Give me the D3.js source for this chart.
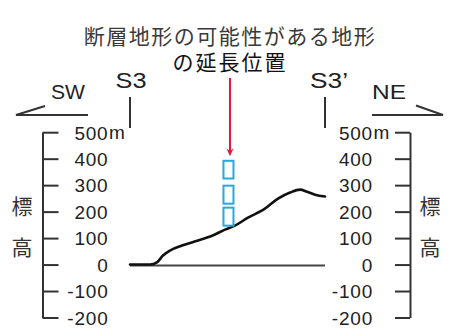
<!DOCTYPE html>
<html>
<head>
<meta charset="utf-8">
<script src="https://cdn.jsdelivr.net/npm/d3@7"></script>
<style>
  html, body { margin: 0; padding: 0; background: #fff; }
  svg { display: block; }
  .lat { font-family: "Liberation Sans", Arial, sans-serif; }
  .jp { font-family: "Noto Sans CJK JP", sans-serif; }
</style>
</head>
<body>
<svg id="chart" width="450" height="328"></svg>
<script>
// Elevation axis ticks (m)
const elevTicks = [-200, -100, 0, 100, 200, 300, 400, 500];

// Topographic profile along S3–S3' : distance (relative units) and elevation (m)
const profileDist = [0, 1.03, 1.38, 1.69, 2.05, 2.67, 3.49, 4.21, 4.87, 5.38, 6.05, 6.92, 7.59, 8.21, 8.72, 9.08, 9.49, 10];
const profileElev = [0, 0, 8, 34, 53, 72, 91, 109, 132, 147, 177, 211, 249, 272, 283, 275, 264, 257];

// Extension of the possible fault-related landform: stacked markers (bottom/top elevation, m)
const markerDist = 5.05;
const markerBottom = [325, 230, 147];
const markerTop = [392, 298, 215];

// Section endpoints and directions
const sectionLabels = ["S3", "S3\u2019"];
const directionLabels = ["SW", "NE"];
const titleLines = ["断層地形の可能性がある地形", "の延長位置"];
const axisTitle = ["標", "高"];

const svg = d3.select("#chart");

const x = d3.scaleLinear().domain([0, 10]).range([130, 325]);
const y = d3.scaleLinear().domain([-200, 500]).range([317.5, 132.2]);

const axisColor = "#333";
const latFont = "Liberation Sans, Arial, sans-serif";

// Left elevation axis
const leftAxis = svg.append("g")
  .attr("transform", "translate(42.5,0)")
  .call(d3.axisRight(y).tickValues(elevTicks).tickSize(16).tickSizeOuter(0)
    .tickFormat(d => d));
leftAxis.select(".domain").attr("stroke", axisColor).attr("stroke-width", 2);
leftAxis.selectAll(".tick line").attr("stroke", axisColor).attr("stroke-width", 2);
leftAxis.selectAll(".tick text")
  .attr("x", 66).attr("dy", "0.36em")
  .attr("text-anchor", "end")
  .attr("font-size", 19).attr("fill", "#222")
  .attr("font-family", latFont)
  .attr("letter-spacing", 0.8);
leftAxis.append("text")
  .attr("x", 66.5).attr("y", y(500)).attr("dy", "0.36em")
  .attr("text-anchor", "start")
  .attr("font-size", 19).attr("fill", "#222")
  .attr("font-family", latFont)
  .text("m");

// Right elevation axis
const rightAxis = svg.append("g")
  .attr("transform", "translate(410,0)")
  .call(d3.axisLeft(y).tickValues(elevTicks).tickSize(15).tickSizeOuter(0)
    .tickFormat(d => d));
rightAxis.select(".domain").attr("stroke", axisColor).attr("stroke-width", 2);
rightAxis.selectAll(".tick line").attr("stroke", axisColor).attr("stroke-width", 2);
rightAxis.selectAll(".tick text")
  .attr("x", -37).attr("dy", "0.36em")
  .attr("text-anchor", "end")
  .attr("font-size", 19).attr("fill", "#222")
  .attr("font-family", latFont)
  .attr("letter-spacing", 0.8);
rightAxis.append("text")
  .attr("x", -36.5).attr("y", y(500)).attr("dy", "0.36em")
  .attr("text-anchor", "start")
  .attr("font-size", 19).attr("fill", "#222")
  .attr("font-family", latFont)
  .text("m");

// Vertical axis titles
[22, 430].forEach(cx => {
  svg.selectAll(null).data(axisTitle).enter().append("text")
    .attr("class", "jp")
    .attr("x", cx).attr("y", (d, i) => 214 + i * 41)
    .attr("text-anchor", "middle")
    .attr("font-size", 21).attr("fill", "#333")
    .text(d => d);
});

// Sea-level baseline
svg.append("line")
  .attr("x1", x(0)).attr("x2", x(10))
  .attr("y1", y(0) + 1).attr("y2", y(0) + 1)
  .attr("stroke", "#444").attr("stroke-width", 2);

// Topographic profile
const pts = profileDist.map((d, i) => [d, profileElev[i]]);
svg.append("path")
  .datum(pts)
  .attr("fill", "none").attr("stroke", "#111").attr("stroke-width", 2.6)
  .attr("stroke-linejoin", "round").attr("stroke-linecap", "round")
  .attr("d", d3.line().x(d => x(d[0])).y(d => y(d[1])).curve(d3.curveMonotoneX));

// Stacked markers
svg.selectAll(".marker").data(markerBottom).enter().append("rect")
  .attr("class", "marker")
  .attr("x", x(markerDist) - 5).attr("width", 10)
  .attr("y", (d, i) => y(markerTop[i]))
  .attr("height", (d, i) => y(d) - y(markerTop[i]))
  .attr("fill", "none").attr("stroke", "#2aa7df").attr("stroke-width", 2);

// Red pointer arrow
const arrowX = x(markerDist) + 1.5;
const arrowTip = y(markerTop[0]) - 4.5;
svg.append("line")
  .attr("x1", arrowX).attr("x2", arrowX)
  .attr("y1", 78).attr("y2", arrowTip - 4)
  .attr("stroke", "#e8173a").attr("stroke-width", 2);
svg.append("path")
  .attr("d", d3.line()([[arrowX - 3.6, arrowTip - 8], [arrowX, arrowTip], [arrowX + 3.6, arrowTip - 8], [arrowX, arrowTip - 5]]) + "Z")
  .attr("fill", "#e8173a");

// Title
svg.selectAll(".title").data(titleLines).enter().append("text")
  .attr("class", "title jp")
  .attr("x", 230).attr("y", (d, i) => 44 + i * 26)
  .attr("text-anchor", "middle")
  .attr("font-size", 21)
  .attr("letter-spacing", (d, i) => i === 0 ? 1.5 : 2)
  .attr("fill", (d, i) => i === 0 ? "#3a3a3a" : "#111")
  .text(d => d);

// Section end marks
svg.selectAll(".endmark").data(sectionLabels).enter().append("line")
  .attr("x1", (d, i) => x(i * 10)).attr("x2", (d, i) => x(i * 10))
  .attr("y1", 97).attr("y2", 128)
  .attr("stroke", axisColor).attr("stroke-width", 2);
svg.selectAll(".endlabel").data(sectionLabels).enter().append("text")
  .attr("class", "lat")
  .attr("x", (d, i) => x(i * 10) + (i === 0 ? 1 : 4))
  .attr("y", 88)
  .attr("text-anchor", "middle")
  .attr("font-size", 22).attr("fill", "#222")
  .attr("textLength", (d, i) => i === 0 ? 31 : 38)
  .attr("lengthAdjust", "spacingAndGlyphs")
  .text(d => d);

// Direction arrows
const dirArrows = [
  [[45, 106], [16, 115], [88, 115]],
  [[372, 115], [443, 115], [416, 105.5]]
];
svg.selectAll(".dir").data(dirArrows).enter().append("path")
  .attr("d", d => d3.line()(d))
  .attr("fill", "none").attr("stroke", axisColor).attr("stroke-width", 2);
svg.selectAll(".dirlabel").data(directionLabels).enter().append("text")
  .attr("class", "lat")
  .attr("x", (d, i) => i === 0 ? 68 : 389)
  .attr("y", 99)
  .attr("text-anchor", "middle")
  .attr("font-size", 21).attr("fill", "#222")
  .attr("textLength", 34)
  .attr("lengthAdjust", "spacingAndGlyphs")
  .text(d => d);
</script>
</body>
</html>
